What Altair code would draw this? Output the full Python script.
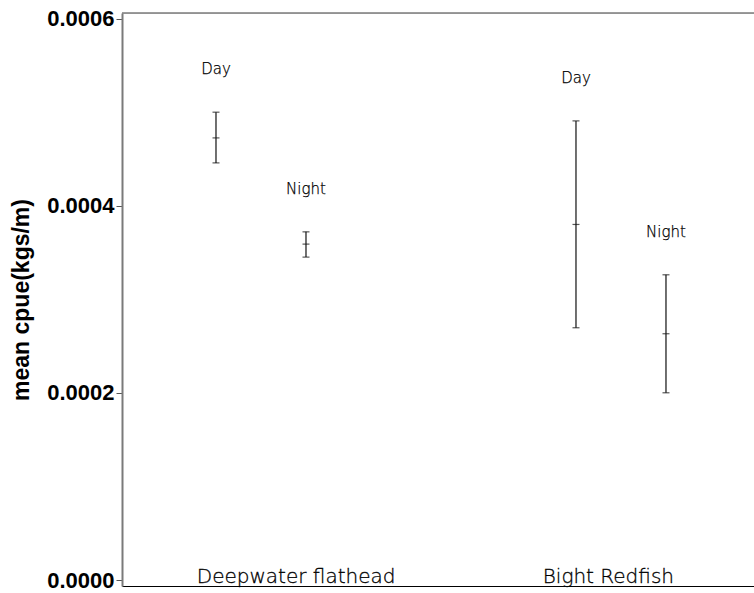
import altair as alt
import pandas as pd

# Mean catch per unit effort with error bars, by species and time of day
species = ["Deepwater flathead", "Deepwater flathead", "Bight Redfish", "Bight Redfish"]
period = ["Day", "Night", "Day", "Night"]
xpos = [1, 2, 5, 6]
mean_cpue = [0.0004725, 0.000359, 0.000380, 0.0002632]
lower = [0.0004458, 0.0003451, 0.0002696, 0.0002001]
upper = [0.0005000, 0.0003721, 0.0004907, 0.0003262]

group_names = ["Deepwater flathead", "Bight Redfish"]
group_x = [1.89, 5.36]
y_ticks = [0.0, 0.0002, 0.0004, 0.0006]

df = pd.DataFrame({
    "species": species, "period": period, "x": xpos,
    "mean": mean_cpue, "lower": lower, "upper": upper,
})
groups = pd.DataFrame({"name": group_names, "x": group_x, "y": [0.0, 0.0]})

W, H = 632, 573
x_scale = alt.Scale(domain=[-0.0444, 6.978], nice=False, zero=False)
y_scale = alt.Scale(domain=[-0.0000064, 0.000606], nice=False, zero=False)
ink = "#111111"
label_font = "DejaVu Sans"

x_axis = alt.Axis(title=None, labels=False, ticks=False, grid=False,
                  domainColor="#000000", domainWidth=1)
y_axis = alt.Axis(title="mean cpue(kgs/m)", values=y_ticks, format=".4f",
                  grid=False, domainColor="#7a7a7a", domainWidth=2,
                  tickColor="#555555", tickSize=6, tickWidth=1,
                  labelFont="Liberation Sans", labelFontWeight="bold",
                  labelFontSize=22, labelColor="#000000", labelPadding=2,
                  titleFont="Liberation Sans", titleFontWeight="bold",
                  titleFontSize=23, titleColor="#000000", titlePadding=13)


def xenc(field="x"):
    return alt.X(f"{field}:Q", scale=x_scale, axis=x_axis, title=None)


def yenc(field):
    return alt.Y(f"{field}:Q", scale=y_scale, axis=y_axis, title="mean cpue(kgs/m)")


base = alt.Chart(df)

bars = base.mark_rule(color=ink, strokeWidth=1.2).encode(
    x=xenc(), y=yenc("lower"), y2="upper:Q",
)


def cap(field):
    return base.mark_tick(color=ink, orient="horizontal", size=7, thickness=1.2).encode(
        x=xenc(), y=yenc(field),
    )


period_labels = base.mark_text(
    font=label_font, fontSize=15, fontWeight=300, color="#000000",
    stroke="#000000", strokeWidth=0.25, baseline="middle", dy=-43,
).encode(x=xenc(), y=yenc("upper"), text="period:N")

species_labels = alt.Chart(groups).mark_text(
    font=label_font, fontSize=20, fontWeight=300, color="#000000",
    stroke="#000000", strokeWidth=0.3, baseline="alphabetic", dy=3,
).encode(x=xenc(), y=yenc("y"), text="name:N")

top_border = alt.Chart(groups).mark_rule(color="#7a7a7a", strokeWidth=1).encode(
    x=alt.value(0), x2=alt.value(W), y=alt.value(0),
)

chart = alt.layer(
    bars, cap("lower"), cap("mean"), cap("upper"),
    period_labels, species_labels, top_border,
).properties(
    width=W, height=H,
    autosize=alt.AutoSizeParams(type="none"),
    padding={"left": 122, "top": 13, "right": 0, "bottom": 7},
).configure_view(stroke=None).configure(background="white")

chart.save("out.html", embed_options={"renderer": "svg", "actions": False})
